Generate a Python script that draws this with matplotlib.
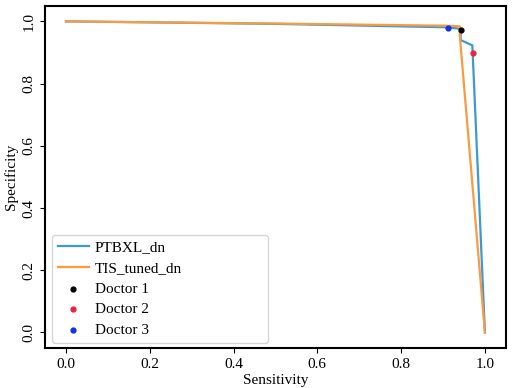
import matplotlib
matplotlib.use('Agg')
import matplotlib.pyplot as plt

# Curves (sensitivity, specificity)
ptbxl_sens = [0.0, 0.50, 0.91, 0.942, 0.942, 0.970, 1.0]
ptbxl_spec = [1.0, 0.992, 0.981, 0.976, 0.940, 0.923, 0.0]
tis_sens = [0.0, 0.50, 0.91, 0.940, 0.940, 1.0]
tis_spec = [1.0, 0.993, 0.986, 0.984, 0.955, 0.0]

# Doctors
doctor_names = ['Doctor 1', 'Doctor 2', 'Doctor 3']
doctor_sens = [0.942, 0.971, 0.913]
doctor_spec = [0.971, 0.899, 0.978]
doctor_colors = ['black', '#f0203c', '#1030f0']

plt.rcParams['font.family'] = ['Liberation Serif', 'DejaVu Serif']

fig = plt.figure(figsize=(5.12, 3.88), dpi=100)
ax = fig.add_axes([0.088, 0.103, 0.900, 0.882])

ax.plot(ptbxl_sens, ptbxl_spec, color='#3a9ad6', linewidth=1.6, label='PTBXL_dn')
ax.plot(tis_sens, tis_spec, color='#fb9a3e', linewidth=1.6, label='TIS_tuned_dn')
for name, sx, sy, c in zip(doctor_names, doctor_sens, doctor_spec, doctor_colors):
    ax.scatter(sx, sy, s=12, color=c, zorder=3, label=name)

ax.set_xlabel('Sensitivity', fontsize=11, labelpad=2)
ax.set_ylabel('Specificity', fontsize=11, labelpad=3)
ax.tick_params(labelsize=11)
for lbl in ax.get_yticklabels():
    lbl.set_rotation(90)
    lbl.set_va('center')
for sp in ax.spines.values():
    sp.set_linewidth(1.5)

# legend box is wider than its contents in the reference
leg = ax.legend(loc='lower left', bbox_to_anchor=(0.015, 0.015, 0.469, 0.3),
                mode='expand', borderaxespad=0, fontsize=11, frameon=True,
                handlelength=2.0, handletextpad=0.4, labelspacing=0.45)
leg.get_frame().set_edgecolor('#cccccc')

fig.savefig('out.png', dpi=100)
